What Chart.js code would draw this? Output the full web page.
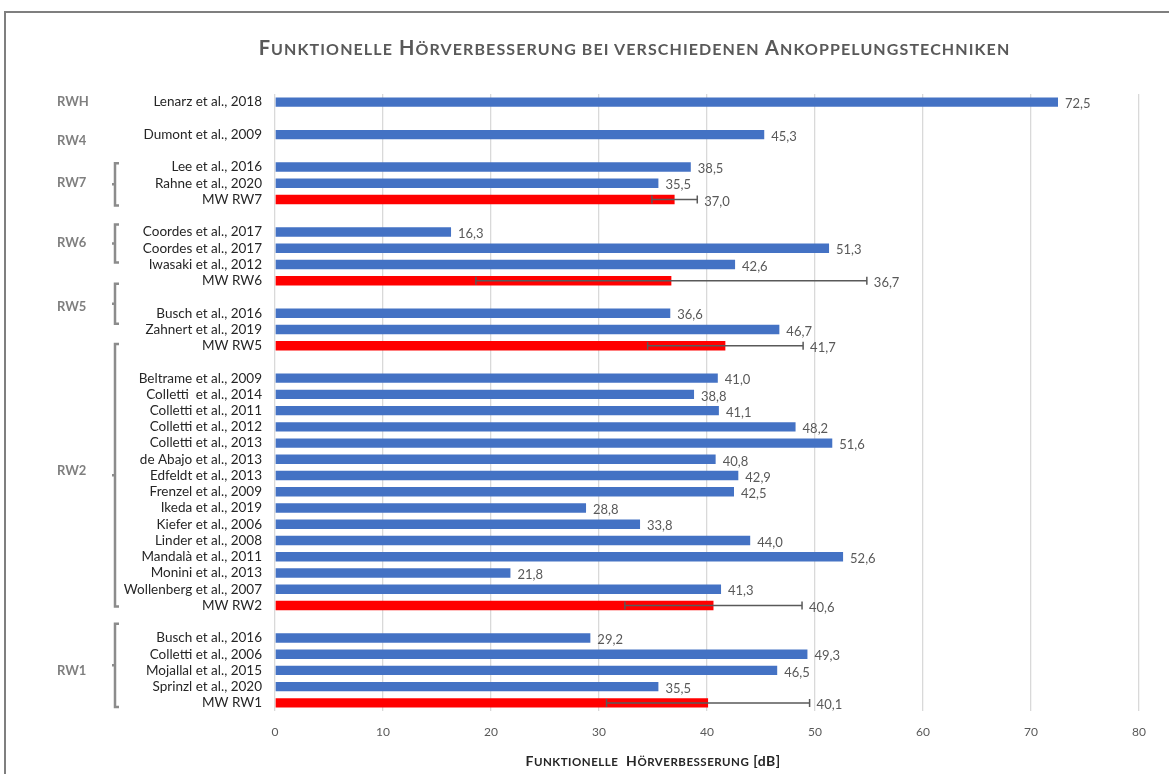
<!DOCTYPE html>
<html>
<head>
<meta charset="utf-8">
<script src="https://cdn.jsdelivr.net/npm/chart.js@4"></script>
<style>
  html, body { margin: 0; padding: 0; background: #fff; }
  #wrap { position: relative; width: 1169px; height: 774px; overflow: hidden; }
  #frame { position: absolute; left: 4px; top: 11px; width: 1200px; height: 800px;
           border-top: 2px solid #7f7f7f; border-left: 2px solid #7f7f7f; }
  #chartBox { position: absolute; left: 0; top: 0; width: 1169px; height: 774px; }
  .caption { position: absolute; font-family: Lato, sans-serif; font-weight: bold;
             white-space: pre; text-align: center; }
  .caption .s { text-transform: uppercase; }
  #title { left: 0; width: 1269px; top: 35px; font-size: 20px; letter-spacing: 1.1px; color: #595959; }
  #title .s { font-size: 16px; }
  #xTitle { left: 0; width: 1306px; top: 752px; font-size: 14px; letter-spacing: 0.5px; color: #262626; }
  #xTitle .s { font-size: 11.5px; }
</style>
</head>
<body>
<div id="wrap">
  <div id="frame"></div>
  <div id="chartBox"><canvas id="hearingGain"></canvas></div>
  <div class="caption" id="title">F<span class="s">unktionelle</span> H<span class="s">örverbesserung bei verschiedenen</span> A<span class="s">nkoppelungstechniken</span></div>
  <div class="caption" id="xTitle">F<span class="s">unktionelle</span>  H<span class="s">örverbesserung</span> [dB]</div>
</div>
<script>
// studies, top to bottom; '' rows are spacers between the groups
var studies = ['Lenarz et al., 2018', '', 'Dumont et al., 2009', '',
    'Lee et al., 2016', 'Rahne et al., 2020', 'MW RW7', '',
    'Coordes et al., 2017', 'Coordes et al., 2017', 'Iwasaki et al., 2012', 'MW RW6', '',
    'Busch et al., 2016', 'Zahnert et al., 2019', 'MW RW5', '',
    'Beltrame et al., 2009', 'Colletti  et al., 2014', 'Colletti et al., 2011', 'Colletti et al., 2012',
    'Colletti et al., 2013', 'de Abajo et al., 2013', 'Edfeldt et al., 2013', 'Frenzel et al., 2009',
    'Ikeda et al., 2019', 'Kiefer et al., 2006', 'Linder et al., 2008', 'Mandalà et al., 2011',
    'Monini et al., 2013', 'Wollenberg et al., 2007', 'MW RW2', '',
    'Busch et al., 2016', 'Colletti et al., 2006', 'Mojallal et al., 2015', 'Sprinzl et al., 2020', 'MW RW1'];

// functional gain in dB
var gain = [72.5, null, 45.3, null,
    38.5, 35.5, 37.0, null,
    16.3, 51.3, 42.6, 36.7, null,
    36.6, 46.7, 41.7, null,
    41.0, 38.8, 41.1, 48.2,
    51.6, 40.8, 42.9, 42.5,
    28.8, 33.8, 44.0, 52.6,
    21.8, 41.3, 40.6, null,
    29.2, 49.3, 46.5, 35.5, 40.1];

// standard deviation, only for the mean values (MW)
var gainSd = [null, null, null, null,
    null, null, 2.1, null,
    null, null, null, 18.1, null,
    null, null, 7.2, null,
    null, null, null, null,
    null, null, null, null,
    null, null, null, null,
    null, null, 8.2, null,
    null, null, null, null, 9.4];

var xTicks = [0, 10, 20, 30, 40, 50, 60, 70, 80];

// coupling groups: name, row of the name, bracket span (rows)
var groupNames = ['RWH', 'RW4', 'RW7', 'RW6', 'RW5', 'RW2', 'RW1'];
var groupRows = [0, 2.4, 5, 8.65, 12.6, 22.7, 35];
var groupBraces = [null, null, [3.77, 6.36], [7.54, 9.88], [11.18, 13.65], [14.89, 31.07], [32.12, 37.25]];

var FONT = 'Lato, sans-serif';
var barColors = studies.map(function (s) { return s.indexOf('MW') === 0 ? '#ff0000' : '#4472c4'; });

// error bars + value labels
var annotate = {
    id: 'annotate',
    afterDatasetsDraw: function (chart) {
        var ctx = chart.ctx;
        var x = chart.scales.x;
        var bars = chart.getDatasetMeta(0).data;
        ctx.save();
        bars.forEach(function (bar, i) {
            if (gain[i] == null) return;
            var end = gain[i];
            if (gainSd[i] != null) {
                var lo = x.getPixelForValue(gain[i] - gainSd[i]);
                var hi = x.getPixelForValue(gain[i] + gainSd[i]);
                ctx.strokeStyle = '#595959';
                ctx.lineWidth = 1.5;
                ctx.beginPath();
                ctx.moveTo(lo, bar.y); ctx.lineTo(hi, bar.y);
                ctx.moveTo(lo, bar.y - 4); ctx.lineTo(lo, bar.y + 4);
                ctx.moveTo(hi, bar.y - 4); ctx.lineTo(hi, bar.y + 4);
                ctx.stroke();
                end = gain[i] + gainSd[i];
            }
            ctx.fillStyle = '#595959';
            ctx.font = '13px ' + FONT;
            ctx.textAlign = 'left';
            ctx.textBaseline = 'middle';
            ctx.fillText(gain[i].toFixed(1).replace('.', ','), x.getPixelForValue(end) + 7, bar.y + 2);
        });
        ctx.restore();
    }
};

// group names and curly brackets on the left
var groups = {
    id: 'groups',
    afterDraw: function (chart) {
        var ctx = chart.ctx;
        var y = chart.scales.y;
        ctx.save();
        ctx.fillStyle = '#7f7f7f';
        ctx.font = 'bold 13px ' + FONT;
        ctx.textBaseline = 'middle';
        groupNames.forEach(function (name, i) {
            ctx.fillText(name, 57, y.getPixelForValue(groupRows[i]));
            var b = groupBraces[i];
            if (!b) return;
            var top = y.getPixelForValue(b[0]);
            var bot = y.getPixelForValue(b[1]);
            var mid = (top + bot) / 2;
            ctx.strokeStyle = '#8c8c8c';
            ctx.lineWidth = 2.5;
            ctx.beginPath();
            ctx.moveTo(119, top); ctx.lineTo(115, top);
            ctx.lineTo(115, bot); ctx.lineTo(119, bot);
            ctx.moveTo(115, mid); ctx.lineTo(112, mid);
            ctx.stroke();
        });
        ctx.restore();
    }
};

var ctx = document.getElementById('hearingGain').getContext('2d');

var chart = new Chart(ctx, {
    type: 'bar',
    data: {
        labels: studies,
        datasets: [{
            label: 'Funktionelle Hörverbesserung',
            data: gain,
            backgroundColor: barColors,
            borderWidth: 0,
            categoryPercentage: 1,
            barPercentage: 0.58
        }]
    },
    options: {
        indexAxis: 'y',
        responsive: true,
        maintainAspectRatio: false,
        animation: false,
        layout: { padding: { top: 94, right: 30, bottom: 0, left: 0 } },
        plugins: {
            legend: { display: false },
            tooltip: { enabled: false }
        },
        scales: {
            x: {
                min: 0,
                max: 80,
                afterBuildTicks: function (s) { s.ticks = xTicks.map(function (v) { return { value: v }; }); },
                afterFit: function (s) { s.height = 63; },
                grid: { color: '#d9d9d9', lineWidth: 1.3, drawTicks: false },
                border: { display: false },
                ticks: { color: '#595959', font: { family: FONT, size: 12 }, padding: 14 }
            },
            y: {
                afterFit: function (s) { s.width = 275; },
                grid: { display: false, drawTicks: false },
                border: { display: false },
                ticks: { autoSkip: false, color: '#262626', font: { family: FONT, size: 13.5 }, padding: 13 }
            }
        }
    },
    plugins: [annotate, groups]
});
</script>
</body>
</html>
